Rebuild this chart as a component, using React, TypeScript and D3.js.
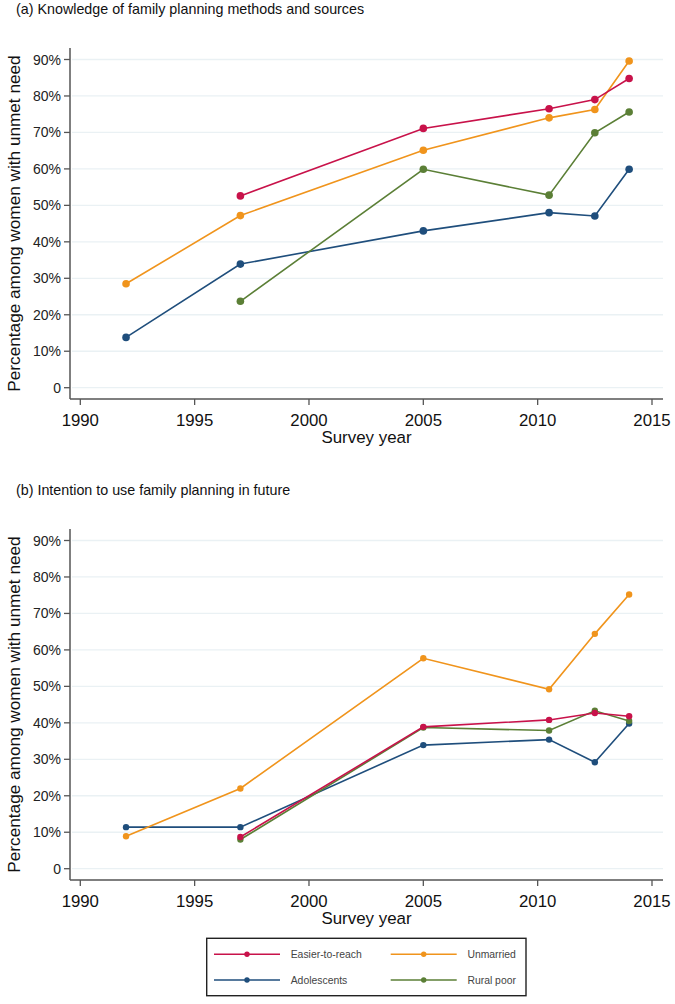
import React from "react";
import * as d3 from "d3";

const seriesNames = ["Easier-to-reach", "Unmarried", "Adolescents", "Rural poor"];
const seriesColors = ["#c8124a", "#f0941c", "#1f4e7c", "#5b7f36"];

// Panel (a): knowledge of family planning methods and sources
const yearsA_easier = [1997, 2005, 2010.5, 2012.5, 2014];
const valsA_easier = [52.6, 71.1, 76.5, 79.0, 84.8];
const yearsA_unmarried = [1992, 1997, 2005, 2010.5, 2012.5, 2014];
const valsA_unmarried = [28.5, 47.2, 65.1, 74.0, 76.3, 89.6];
const yearsA_adol = [1992, 1997, 2005, 2010.5, 2012.5, 2014];
const valsA_adol = [13.8, 33.9, 43.0, 48.0, 47.1, 59.9];
const yearsA_rural = [1997, 2005, 2010.5, 2012.5, 2014];
const valsA_rural = [23.7, 59.9, 52.8, 69.9, 75.6];

// Panel (b): intention to use family planning in future
const yearsB_easier = [1997, 2005, 2010.5, 2012.5, 2014];
const valsB_easier = [8.7, 38.9, 40.8, 42.7, 41.8];
const yearsB_unmarried = [1992, 1997, 2005, 2010.5, 2012.5, 2014];
const valsB_unmarried = [8.9, 22.0, 57.7, 49.2, 64.4, 75.2];
const yearsB_adol = [1992, 1997, 2005, 2010.5, 2012.5, 2014];
const valsB_adol = [11.4, 11.4, 33.9, 35.4, 29.2, 39.8];
const yearsB_rural = [1997, 2005, 2010.5, 2012.5, 2014];
const valsB_rural = [8.0, 38.7, 37.9, 43.3, 40.5];

const xTicks = [1990, 1995, 2000, 2005, 2010, 2015];
const yTicks = [0, 10, 20, 30, 40, 50, 60, 70, 80, 90];

const titleA = "(a) Knowledge of family planning methods and sources";
const titleB = "(b) Intention to use family planning in future";
const yLabel = "Percentage among women with unmet need";
const xLabel = "Survey year";

type Series = { name: string; color: string; years: number[]; vals: number[] };

const panelA: Series[] = [
  { name: seriesNames[2], color: seriesColors[2], years: yearsA_adol, vals: valsA_adol },
  { name: seriesNames[3], color: seriesColors[3], years: yearsA_rural, vals: valsA_rural },
  { name: seriesNames[1], color: seriesColors[1], years: yearsA_unmarried, vals: valsA_unmarried },
  { name: seriesNames[0], color: seriesColors[0], years: yearsA_easier, vals: valsA_easier },
];
const panelB: Series[] = [
  { name: seriesNames[2], color: seriesColors[2], years: yearsB_adol, vals: valsB_adol },
  { name: seriesNames[3], color: seriesColors[3], years: yearsB_rural, vals: valsB_rural },
  { name: seriesNames[1], color: seriesColors[1], years: yearsB_unmarried, vals: valsB_unmarried },
  { name: seriesNames[0], color: seriesColors[0], years: yearsB_easier, vals: valsB_easier },
];

const FONT = "'Liberation Sans', Arial, sans-serif";
const AXIS = "#555";

function Panel({ top, title, series, r }: { top: number; title: string; series: Series[]; r: number }) {
  const x = d3.scaleLinear().domain([1990, 2015]).range([80.3, 652]);
  const y = d3.scaleLinear().domain([0, 90]).range([top + 387.7, top + 59.5]);
  const axisY = top + 399;
  const axisX = 70;
  const line = d3
    .line<[number, number]>()
    .x((d) => x(d[0]))
    .y((d) => y(d[1]));
  return (
    <g>
      <text x={16} y={top + 14} fontSize={14.3} fontFamily={FONT} fill="#111">
        {title}
      </text>
      {yTicks.map((t) => (
        <line key={"g" + t} x1={axisX + 2} x2={663} y1={y(t)} y2={y(t)} stroke="#eaf1f4" strokeWidth={1.3} />
      ))}
      <line x1={axisX} x2={axisX} y1={top + 48} y2={axisY} stroke={AXIS} strokeWidth={1.5} />
      <line x1={axisX} x2={663} y1={axisY} y2={axisY} stroke={AXIS} strokeWidth={1.5} />
      {yTicks.map((t) => (
        <g key={"y" + t}>
          <line x1={axisX - 6} x2={axisX} y1={y(t)} y2={y(t)} stroke={AXIS} strokeWidth={1.3} />
          <text x={axisX - 9} y={y(t) + 5} fontSize={14} textAnchor="end" fontFamily={FONT} fill="#222">
            {t === 0 ? "0" : `${t}%`}
          </text>
        </g>
      ))}
      {xTicks.map((t) => (
        <g key={"x" + t}>
          <line x1={x(t)} x2={x(t)} y1={axisY} y2={axisY + 6} stroke={AXIS} strokeWidth={1.3} />
          <text x={x(t)} y={axisY + 27} fontSize={16.8} textAnchor="middle" fontFamily={FONT} fill="#111">
            {t}
          </text>
        </g>
      ))}
      <text x={366.5} y={axisY + 44} fontSize={16.9} textAnchor="middle" fontFamily={FONT} fill="#111">
        {xLabel}
      </text>
      <text
        transform={`translate(20, ${(top + 48 + axisY) / 2}) rotate(-90)`}
        fontSize={17.2}
        textAnchor="middle"
        fontFamily={FONT}
        fill="#111"
      >
        {yLabel}
      </text>
      {series.map((s) => {
        const pts = s.years.map((yr, i) => [yr, s.vals[i]] as [number, number]);
        return (
          <g key={s.name}>
            <path d={line(pts) || ""} fill="none" stroke={s.color} strokeWidth={1.6} />
            {pts.map((p, i) => (
              <circle key={i} cx={x(p[0])} cy={y(p[1])} r={r} fill={s.color} />
            ))}
          </g>
        );
      })}
    </g>
  );
}

function Legend() {
  const entries = [
    { name: seriesNames[0], color: seriesColors[0], col: 0, row: 0 },
    { name: seriesNames[1], color: seriesColors[1], col: 1, row: 0 },
    { name: seriesNames[2], color: seriesColors[2], col: 0, row: 1 },
    { name: seriesNames[3], color: seriesColors[3], col: 1, row: 1 },
  ];
  const colX = [214, 390.7];
  const rowY = [954.3, 980];
  return (
    <g>
      <rect x={206.7} y={938.3} width={319.3} height={57.4} fill="#fff" stroke="#222" strokeWidth={1.4} />
      {entries.map((e) => {
        const x0 = colX[e.col];
        const yy = rowY[e.row];
        return (
          <g key={e.name}>
            <line x1={x0} x2={x0 + 66} y1={yy} y2={yy} stroke={e.color} strokeWidth={1.4} />
            <circle cx={x0 + 33} cy={yy} r={2.7} fill={e.color} />
            <text x={x0 + 76.7} y={yy + 3.8} fontSize={10.4} fontFamily={FONT} fill="#444">
              {e.name}
            </text>
          </g>
        );
      })}
    </g>
  );
}

export default function App() {
  return (
    <svg
      width={675}
      height={1004}
      style={{ position: "absolute", left: 0, top: 0, background: "#fff" }}
    >
      <rect width={675} height={1004} fill="#fff" />
      <Panel top={0} title={titleA} series={panelA} r={3.8} />
      <Panel top={481} title={titleB} series={panelB} r={3.2} />
      <Legend />
    </svg>
  );
}
